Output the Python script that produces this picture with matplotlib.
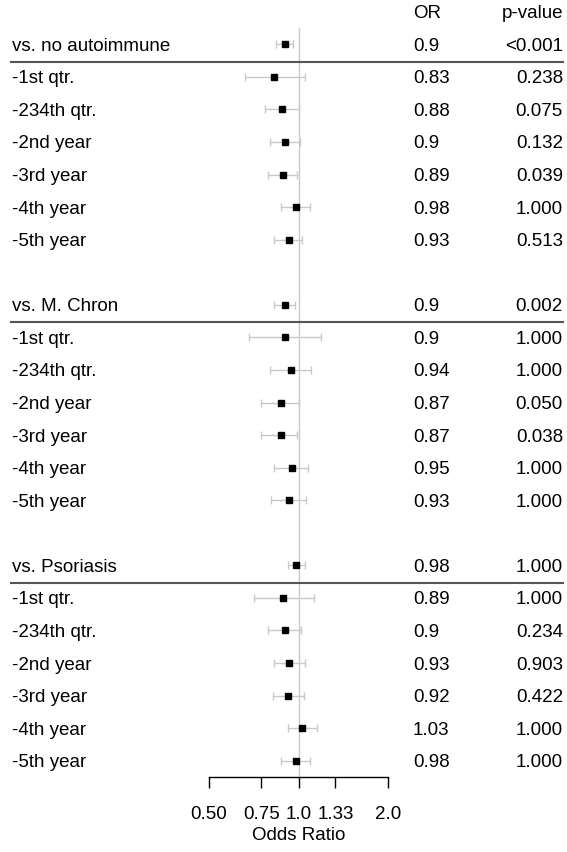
import matplotlib
matplotlib.use('Agg')
import matplotlib.pyplot as plt
import matplotlib.transforms as mtransforms

plt.rcParams['font.family'] = ['Liberation Sans', 'DejaVu Sans']

# --- data ---
GROUPS     = ['vs. no autoimmune', 'vs. M. Chron', 'vs. Psoriasis']
SUB_LABELS = ['-1st qtr.', '-234th qtr.', '-2nd year', '-3rd year',
              '-4th year', '-5th year']

# one entry per row: group header, then its six sub rows
OR_EST = [0.90, 0.83, 0.88, 0.90, 0.89, 0.98, 0.93,
          0.90, 0.90, 0.94, 0.87, 0.87, 0.95, 0.93,
          0.98, 0.89, 0.90, 0.93, 0.92, 1.03, 0.98]
CI_LO  = [0.84, 0.66, 0.77, 0.80, 0.79, 0.87, 0.83,
          0.83, 0.68, 0.80, 0.75, 0.75, 0.83, 0.81,
          0.92, 0.71, 0.79, 0.83, 0.82, 0.92, 0.87]
CI_HI  = [0.96, 1.05, 1.00, 1.01, 0.99, 1.09, 1.03,
          0.975, 1.19, 1.10, 1.00, 0.99, 1.08, 1.06,
          1.05, 1.13, 1.02, 1.05, 1.04, 1.15, 1.09]
OR_TEXT = ['0.9', '0.83', '0.88', '0.9', '0.89', '0.98', '0.93',
           '0.9', '0.9', '0.94', '0.87', '0.87', '0.95', '0.93',
           '0.98', '0.89', '0.9', '0.93', '0.92', '1.03', '0.98']
P_TEXT  = ['<0.001', '0.238', '0.075', '0.132', '0.039', '1.000', '0.513',
           '0.002', '1.000', '1.000', '0.050', '0.038', '1.000', '1.000',
           '1.000', '1.000', '0.234', '0.903', '0.422', '1.000', '1.000']

XTICKS = [0.5, 0.75, 1.0, 1.33, 2.0]
XTICK_LABELS = ['0.50', '0.75', '1.0', '1.33', '2.0']

W, H = 567, 852
FS = 13.5

# row positions: row 0 is the column header, one blank row between groups
labels, rows, is_header = [], [], []
for g, name in enumerate(GROUPS):
    base = 1 + 8 * g
    labels.append(name); rows.append(base); is_header.append(True)
    for k, s in enumerate(SUB_LABELS):
        labels.append(s); rows.append(base + 1 + k); is_header.append(False)

fig = plt.figure(figsize=(W / 100, H / 100), dpi=100)
ax = fig.add_axes([209 / W, 75 / H, 179 / W, 749 / H])
ax.set_xscale('log')
ax.set_xlim(0.5, 2.0)
ax.set_ylim(23.5, 0.5)

ax.axvline(1.0, color='#c8c8c8', lw=1.0, zorder=1)
for i, r in enumerate(rows):
    ax.errorbar(OR_EST[i], r,
                xerr=[[OR_EST[i] - CI_LO[i]], [CI_HI[i] - OR_EST[i]]],
                fmt='none', ecolor='#c8c8c8', elinewidth=1.0,
                capsize=2.8, capthick=1.0, zorder=2)
ax.plot(OR_EST, rows, 's', color='black', ms=3.7, zorder=3)

for side in ['top', 'right', 'left']:
    ax.spines[side].set_visible(False)
ax.spines['bottom'].set_linewidth(1.0)
ax.set_yticks([])
ax.minorticks_off()
ax.set_xticks(XTICKS)
ax.set_xticklabels(XTICK_LABELS, fontsize=FS)
ax.tick_params(axis='x', direction='out', length=8, width=1.0, pad=13)
ax.set_xlabel('Odds Ratio', fontsize=FS, labelpad=3)

# text columns share the forest rows
trans = mtransforms.blended_transform_factory(fig.transFigure, ax.transData)
VA = 'center_baseline'
ax.text(413 / W, 0, 'OR', transform=trans, ha='left', va=VA, fontsize=FS)
ax.text(563 / W, 0, 'p-value', transform=trans, ha='right', va=VA,
        fontsize=FS)
for i, r in enumerate(rows):
    ax.text(12 / W, r, labels[i], transform=trans, ha='left', va=VA,
            fontsize=FS)
    ax.text(413 / W, r, OR_TEXT[i], transform=trans, ha='left', va=VA,
            fontsize=FS)
    ax.text(563 / W, r, P_TEXT[i], transform=trans, ha='right', va=VA,
            fontsize=FS)
    if is_header[i]:
        ax.plot([11 / W, 563 / W], [r + 0.53, r + 0.53], transform=trans,
                color='#555555', lw=1.5, clip_on=False)

fig.savefig('out.png', dpi=100)
